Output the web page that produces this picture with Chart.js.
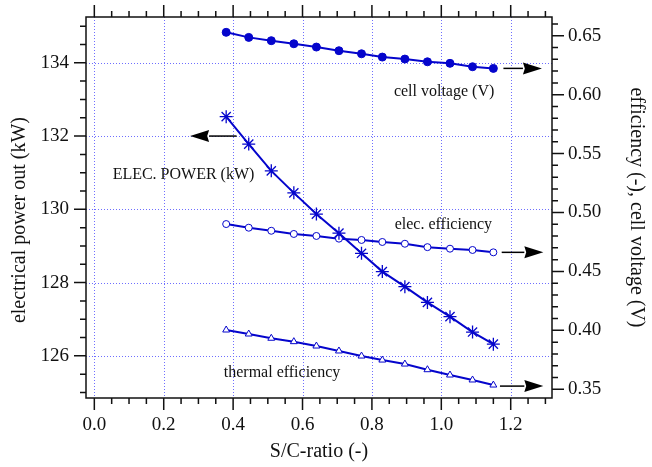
<!DOCTYPE html>
<html>
<head>
<meta charset="utf-8">
<script src="https://cdn.jsdelivr.net/npm/chart.js@4/dist/chart.umd.min.js"></script>
<style>
  html, body { margin: 0; padding: 0; background: #fff; }
  #wrap { width: 652px; height: 467px; }
</style>
</head>
<body>
<div id="wrap"><canvas id="canvas"></canvas></div>
<script>
// S/C-ratio sweep: power on the left axis, efficiencies and cell voltage on the right
let scRatio     = [0.38, 0.445, 0.51, 0.575, 0.64, 0.705, 0.77, 0.83, 0.895, 0.96, 1.025, 1.09, 1.15];
let elecPower   = [132.53, 131.78, 131.05, 130.45, 129.87, 129.35, 128.80, 128.30, 127.89, 127.46, 127.07, 126.65, 126.32];
let cellVoltage = [0.6529, 0.6486, 0.6458, 0.6432, 0.6404, 0.6373, 0.6347, 0.6319, 0.6302, 0.6279, 0.6266, 0.6237, 0.6223];
let elecEff     = [0.4902, 0.4871, 0.4845, 0.4818, 0.4801, 0.4778, 0.4767, 0.4750, 0.4735, 0.4706, 0.4693, 0.4682, 0.4662];
let thermEff    = [0.4003, 0.3969, 0.3933, 0.3904, 0.3867, 0.3825, 0.3782, 0.3748, 0.3714, 0.3666, 0.3621, 0.3579, 0.3536];

let xTicks     = [0, 0.2, 0.4, 0.6, 0.8, 1.0, 1.2];
let powerTicks = [126, 128, 130, 132, 134];
let effTicks   = [0.35, 0.40, 0.45, 0.50, 0.55, 0.60, 0.65];

// text notes and arrows inside the plot, in data units
let notes = [
  { text: 'cell voltage (V)',   x: 1.008, y: 0.6022, axis: 'yR' },
  { text: 'ELEC. POWER (kW)',   x: 0.257, y: 130.94, axis: 'yL' },
  { text: 'elec. efficiency',   x: 1.006, y: 0.4894, axis: 'yR' },
  { text: 'thermal efficiency', x: 0.541, y: 0.3640, axis: 'yR' }
];
let arrows = [
  { from: 0.410, to: 0.276, y: 132.0,  axis: 'yL' },
  { from: 1.179, to: 1.290, y: 0.6223, axis: 'yR' },
  { from: 1.174, to: 1.294, y: 0.4662, axis: 'yR' },
  { from: 1.169, to: 1.294, y: 0.3527, axis: 'yR' }
];
let powerTitle = 'electrical power out (kW)';

const blue = '#0505cc';
const serif = "'Liberation Serif', 'DejaVu Serif', serif";

function pts(ys) {
  return scRatio.map((x, i) => ({ x: x, y: ys[i] }));
}

function fixTicks(list) {
  return function (scale) { scale.ticks = list.map(v => ({ value: v })); };
}

// dotted grid under the data
const gridPlugin = {
  id: 'dottedGrid',
  beforeDatasetsDraw(chart) {
    const { ctx, chartArea: a, scales } = chart;
    ctx.save();
    ctx.strokeStyle = 'rgb(110,110,255)';
    ctx.lineWidth = 1;
    ctx.setLineDash([1, 2]);
    xTicks.forEach(v => {
      const px = Math.round(scales.x.getPixelForValue(v)) + 0.5;
      ctx.beginPath(); ctx.moveTo(px, a.top); ctx.lineTo(px, a.bottom); ctx.stroke();
    });
    powerTicks.forEach(v => {
      const py = Math.round(scales.yL.getPixelForValue(v)) + 0.5;
      ctx.beginPath(); ctx.moveTo(a.left, py); ctx.lineTo(a.right, py); ctx.stroke();
    });
    ctx.restore();
  }
};

// frame, outward major/minor ticks, arrows and notes
const framePlugin = {
  id: 'frame',
  afterDraw(chart) {
    const { ctx, chartArea: a, scales } = chart;
    const major = 12, minor = 6;
    ctx.save();
    ctx.strokeStyle = '#111';
    ctx.lineWidth = 1.5;
    ctx.strokeRect(a.left, a.top, a.right - a.left, a.bottom - a.top);

    function eachStep(scale, step, majorStep, fn) {
      const lo = Math.ceil(scale.min / step - 1e-6), hi = Math.floor(scale.max / step + 1e-6);
      for (let i = lo; i <= hi; i++) {
        const v = i * step;
        const r = v / majorStep;
        fn(scale.getPixelForValue(v), Math.abs(r - Math.round(r)) < 1e-6);
      }
    }
    ctx.beginPath();
    eachStep(scales.x, 0.05, 0.2, (p, m) => {
      const len = m ? major : minor;
      ctx.moveTo(p, a.bottom); ctx.lineTo(p, a.bottom + len);
      ctx.moveTo(p, a.top); ctx.lineTo(p, a.top - len);
    });
    eachStep(scales.yL, 0.5, 2, (p, m) => {
      ctx.moveTo(a.left, p); ctx.lineTo(a.left - (m ? major : minor), p);
    });
    eachStep(scales.yR, 0.01, 0.05, (p, m) => {
      ctx.moveTo(a.right, p); ctx.lineTo(a.right + (m ? major : minor), p);
    });
    ctx.stroke();

    // arrows pointing at the axis each curve belongs to
    ctx.fillStyle = '#000';
    ctx.strokeStyle = '#000';
    ctx.lineWidth = 1.5;
    arrows.forEach(ar => {
      const x0 = scales.x.getPixelForValue(ar.from);
      const x1 = scales.x.getPixelForValue(ar.to);
      const y = scales[ar.axis].getPixelForValue(ar.y);
      const dir = Math.sign(x1 - x0);
      const headLen = 19, half = 6;
      ctx.beginPath();
      ctx.moveTo(x0, y); ctx.lineTo(x1 - dir * headLen, y);
      ctx.stroke();
      ctx.beginPath();
      ctx.moveTo(x1, y);
      ctx.lineTo(x1 - dir * headLen, y - half);
      ctx.lineTo(x1 - dir * headLen * 0.9, y);
      ctx.lineTo(x1 - dir * headLen, y + half);
      ctx.closePath();
      ctx.fill();
    });

    ctx.fillStyle = '#111';
    ctx.font = '16px ' + serif;
    ctx.textAlign = 'center';
    ctx.textBaseline = 'middle';
    notes.forEach(n => {
      ctx.fillText(n.text, scales.x.getPixelForValue(n.x), scales[n.axis].getPixelForValue(n.y));
    });

    // left axis title sits a little below the middle of the axis
    ctx.font = '20px ' + serif;
    ctx.translate(scales.yL.left + 20, a.top + (a.bottom - a.top) * 0.533);
    ctx.rotate(-Math.PI / 2);
    ctx.fillText(powerTitle, 0, 0);
    ctx.restore();
  }
};

let options = {
  type: 'scatter',
  data: {
    datasets: [
      {
        label: 'cell voltage (V)',
        data: pts(cellVoltage),
        yAxisID: 'yR',
        showLine: true,
        borderColor: blue,
        backgroundColor: blue,
        borderWidth: 2,
        pointStyle: 'circle',
        pointRadius: 4,
        pointBorderWidth: 1
      },
      {
        label: 'ELEC. POWER (kW)',
        data: pts(elecPower),
        yAxisID: 'yL',
        showLine: true,
        borderColor: blue,
        backgroundColor: blue,
        borderWidth: 2,
        pointStyle: 'star',
        pointRadius: 6.5,
        pointBorderWidth: 1.3
      },
      {
        label: 'elec. efficiency',
        data: pts(elecEff),
        yAxisID: 'yR',
        showLine: true,
        borderColor: blue,
        backgroundColor: '#fff',
        borderWidth: 2,
        pointStyle: 'circle',
        pointRadius: 3.5,
        pointBorderWidth: 1
      },
      {
        label: 'thermal efficiency',
        data: pts(thermEff),
        yAxisID: 'yR',
        showLine: true,
        borderColor: blue,
        backgroundColor: '#fff',
        borderWidth: 2,
        pointStyle: 'triangle',
        pointRadius: 4,
        pointBorderWidth: 1
      }
    ]
  },
  options: {
    responsive: true,
    maintainAspectRatio: false,
    animation: false,
    devicePixelRatio: 1,
    layout: { padding: { top: 17, left: 0, right: 0, bottom: 0 } },
    plugins: {
      legend: { display: false },
      tooltip: { enabled: false }
    },
    scales: {
      x: {
        type: 'linear',
        position: 'bottom',
        min: -0.024,
        max: 1.319,
        afterBuildTicks: fixTicks(xTicks),
        afterFit: s => { s.height = 69; s.paddingLeft = 0; s.paddingRight = 0; },
        grid: { display: false, drawTicks: false },
        border: { display: false },
        ticks: {
          padding: 16,
          color: '#111',
          font: { family: serif, size: 19 },
          maxRotation: 0,
          callback: v => v.toFixed(1)
        },
        title: {
          display: true,
          text: 'S/C-ratio (-)',
          color: '#111',
          font: { family: serif, size: 20 },
          padding: { top: 4, bottom: 3 }
        }
      },
      yL: {
        type: 'linear',
        position: 'left',
        min: 124.85,
        max: 135.25,
        afterBuildTicks: fixTicks(powerTicks),
        afterFit: s => { s.width = 86; s.paddingTop = 0; s.paddingBottom = 0; },
        grid: { display: false, drawTicks: false },
        border: { display: false },
        ticks: {
          padding: 17,
          color: '#111',
          font: { family: serif, size: 19 },
          callback: v => v.toFixed(0)
        },
        title: { display: false }
      },
      yR: {
        type: 'linear',
        position: 'right',
        min: 0.3426,
        max: 0.6659,
        afterBuildTicks: fixTicks(effTicks),
        afterFit: s => { s.width = 100; s.paddingTop = 0; s.paddingBottom = 0; },
        grid: { display: false, drawTicks: false },
        border: { display: false },
        ticks: {
          padding: 16,
          color: '#111',
          font: { family: serif, size: 19 },
          callback: v => v.toFixed(2)
        },
        title: {
          display: true,
          text: 'efficiency (-), cell voltage (V)',
          color: '#111',
          font: { family: serif, size: 20 },
          padding: { top: 4, bottom: 4 }
        }
      }
    }
  },
  plugins: [gridPlugin, framePlugin]
};

let chart = new Chart(document.getElementById('canvas'), options);
</script>
</body>
</html>
